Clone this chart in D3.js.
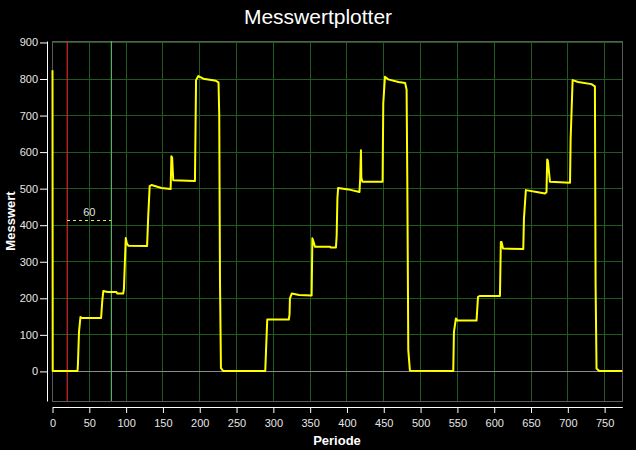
<!DOCTYPE html>
<html><head><meta charset="utf-8">
<script src="https://cdn.jsdelivr.net/npm/d3@7"></script>
<style>
html,body{margin:0;padding:0;background:#000;}
svg{display:block;font-family:"Liberation Sans",Arial,sans-serif;}
</style></head>
<body><svg id="c" width="636" height="450"></svg>
<script>
// Data: measured series (Periode, Messwert)
const periode = [0,0.3,34,34.5,36,38,40,66,67.5,69,75,87,88,96,97,99.5,101,103,128.5,130,132,134.5,148,160.5,161.5,162.5,164,193.5,195,198,205,222,225.5,226.5,227.5,228.8,232,289,290,291.7,321,322,322.5,325,335,352,353,354.5,356.5,377,378,385,386,387,388,402,417,418,419,419.5,421,448.4,449.3,451.6,456,470,479,481,482,483.3,485.5,544.4,545.3,548,550,576,578,580,607.8,609,610,612,639.5,640.4,643,657.6,669,671,672,673,675.7,703,703.8,706.5,714,732,736.8,737.7,739,742.6,774];
const messwert = [824,1,1,17,108,149,146,146,190,220,217,217,213,213,225,365,350,344,343,423,507,510,502,499,589,585,523,521,797,808,801,795,791,701,250,9,1,1,54,142,142,156,200,213,209,208,364,355,341,341,339,339,372,473,502,498,491,530,605,530,519,519,733,806,799,792,789,771,509,58,2,1,108,145,139,139,204,206,206,354,354,336,335,418,496,491,487,490,580,575,519,516,634,797,792,786,780,241,8,1,1];
const xTicks = d3.range(0, 751, 50);
const yTicks = d3.range(0, 901, 100);
const markerStart = 20, markerEnd = 80, markerLevel = 413, markerLabel = "60";
const title = "Messwertplotter", xTitle = "Periode", yTitle = "Messwert";

const svg = d3.select("#c");
const x = d3.scaleLinear().domain([0, 774]).range([52.5, 622.3]);
const y = d3.scaleLinear().domain([-81, 904]).range([401, 41]);

svg.append("rect").attr("width",636).attr("height",450).attr("fill","#000");

// grid
const g = svg.append("g");
g.selectAll("line.vg").data(xTicks.filter(d=>d>0)).join("line").attr("class","vg")
  .attr("x1",d=>x(d)).attr("x2",d=>x(d)).attr("y1",y(-81)).attr("y2",y(904))
  .attr("stroke","#1f5a1f").attr("stroke-width",1).attr("shape-rendering","crispEdges");
g.selectAll("line.hg").data(yTicks.filter(d=>d>0)).join("line").attr("class","hg")
  .attr("x1",x(0)).attr("x2",x(774)).attr("y1",d=>y(d)).attr("y2",d=>y(d))
  .attr("stroke","#1f5a1f").attr("stroke-width",1).attr("shape-rendering","crispEdges");
// plot border
g.append("rect").attr("x",x(0)).attr("y",y(904)).attr("width",x(774)-x(0)).attr("height",y(-81)-y(904))
  .attr("fill","none").attr("stroke","#5a5a5a").attr("shape-rendering","crispEdges");
// zero line
g.append("line").attr("x1",x(0)).attr("x2",x(774)).attr("y1",y(0)).attr("y2",y(0))
  .attr("stroke","#8a8a8a").attr("shape-rendering","crispEdges");
// markers
g.append("line").attr("class","marker-start").attr("x1",x(markerStart)).attr("x2",x(markerStart)).attr("y1",y(-81)).attr("y2",y(904))
  .attr("stroke","#d42a2a").attr("stroke-width",1.2);
g.append("line").attr("class","marker-end").attr("x1",x(markerEnd)).attr("x2",x(markerEnd)).attr("y1",y(-81)).attr("y2",y(904))
  .attr("stroke","#5cb05c").attr("stroke-width",1.2);
g.append("line").attr("x1",x(markerStart)).attr("x2",x(markerEnd)).attr("y1",y(markerLevel)).attr("y2",y(markerLevel))
  .attr("stroke","#e8e860").attr("stroke-dasharray","3,3").attr("shape-rendering","crispEdges");
g.append("text").attr("x",x((markerStart+markerEnd)/2)).attr("y",y(markerLevel)-4)
  .attr("text-anchor","middle").attr("fill","#e0e0e0").attr("font-size",11).text(markerLabel);

// series
const pts = periode.map((p,i)=>[p, messwert[i]]);
svg.append("path").datum(pts)
  .attr("d", d3.line().x(d=>x(d[0])).y(d=>y(d[1])))
  .attr("fill","none").attr("stroke","#ffff00").attr("stroke-width",2).attr("stroke-linejoin","round");

// axes
const xAxis = svg.append("g").attr("transform","translate(0,407)")
  .call(d3.axisBottom(x).tickValues(xTicks).tickSize(6).tickSizeOuter(0).tickPadding(6));
const yAxis = svg.append("g").attr("transform","translate(47,0)")
  .call(d3.axisLeft(y).tickValues(yTicks).tickSize(7).tickSizeOuter(0).tickPadding(2));
[xAxis,yAxis].forEach(a=>{
  a.select(".domain").attr("stroke","#fff");
  a.selectAll(".tick line").attr("stroke","#fff");
  a.selectAll(".tick text").attr("fill","#e6e6e6").attr("font-size",11)
   .attr("font-family","'Liberation Sans',Arial,sans-serif");
});

svg.append("text").attr("x",318).attr("y",24).attr("text-anchor","middle")
  .attr("fill","#fff").attr("font-size",21).text(title);
svg.append("text").attr("x",337).attr("y",445).attr("text-anchor","middle")
  .attr("fill","#fff").attr("font-size",13).attr("font-weight","bold").text(xTitle);
svg.append("text").attr("transform","translate(15,221) rotate(-90)").attr("text-anchor","middle")
  .attr("fill","#fff").attr("font-size",13).attr("font-weight","bold").text(yTitle);
</script></body></html>
